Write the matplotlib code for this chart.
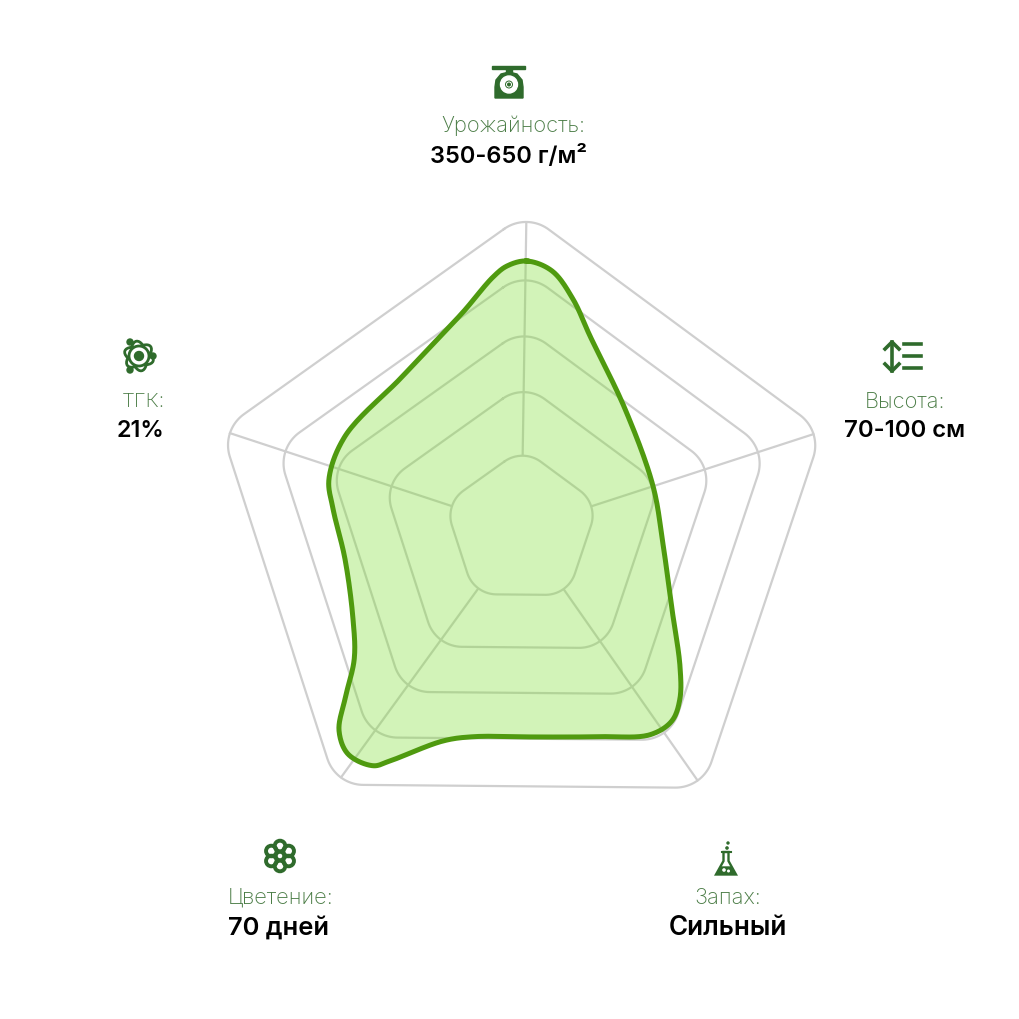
import numpy as np
import matplotlib
matplotlib.use("Agg")
import matplotlib.pyplot as plt
from matplotlib.patches import Circle, Ellipse, Polygon, Rectangle

plt.rcParams['font.family'] = ['Inter', 'DejaVu Sans']

# --- data ---------------------------------------------------------------
axis_names = ["Урожайность:", "Высота:", "Запах:", "Цветение:", "ТГК:"]
axis_values = ["350-650 г/м²", "70-100 см", "Сильный", "70 дней", "21%"]
axis_angles_deg = [0.9, 72.0, 145.0, 216.0, 288.2]
ring_levels = [0.255, 0.46, 0.637, 0.815, 1.0]
outline_angle_deg = [0.5, 6.1, 11.9, 18.7, 40, 71.5, 96.2, 118.5, 131.6, 137.6, 142.5,
                     148.6, 160, 175.7, 193.9, 201, 210.1, 212.6, 218.1, 222.6, 226.6,
                     232.7, 242.3, 260.5, 276, 284.3, 297.4, 320.3, 332.6, 344.2, 352.9, 356.2]
outline_radius = [268, 259.5, 235, 204, 156.5, 135.5, 139.3, 167.8, 208, 230.4, 242,
                  241, 221, 208.6, 214, 227, 268, 281, 286, 274, 247,
                  214, 193.7, 182, 192.5, 201.8, 202, 195, 205, 225.5, 254, 263.6]

# --- layout -------------------------------------------------------------
W = 1020
CX, CY = 524.5, 530.0
GRID_CX = 521.5
RMAX_AXES = 500.0
R_OUTER = 316.0
ring_corner = [31, 36, 37, 38, 38]
label_pos = [(513, 125, 509, 155), (905, 401, 905, 430), (728, 897, 728, 927),
             (281, 897, 279, 927), (143, 401, 141, 430)]
label_size = [15.8, 15.8, 15.8, 15.8, 14.8]
value_size = [17.0, 17.2, 18.8, 18.4, 16.8]
GRID = '#cfcfcf'
FILL = '#7edd34'
LINE = '#4f9a0f'
LABEL = '#4a7c45'
ICON = '#2f6b2c'


def to_xy(theta_deg, r):
    t = np.radians(np.asarray(theta_deg, float))
    return np.asarray(r, float) * np.sin(t), np.asarray(r, float) * np.cos(t)


def to_polar(x, y):
    return np.arctan2(x, y), np.hypot(x, y)


def rounded_polygon(xs, ys, rad, n=24):
    pts = np.column_stack([xs, ys])
    out = []
    m = len(pts)
    for i in range(m):
        p, a, b = pts[i], pts[i - 1], pts[(i + 1) % m]
        u = (a - p) / np.linalg.norm(a - p)
        v = (b - p) / np.linalg.norm(b - p)
        half = np.arccos(np.clip(u @ v, -1, 1)) / 2
        tl = rad / np.tan(half)
        bis = (u + v) / np.linalg.norm(u + v)
        c = p + bis * rad / np.sin(half)
        s, e = p + u * tl, p + v * tl
        a0 = np.arctan2(*(s - c)[::-1])
        a1 = np.arctan2(*(e - c)[::-1])
        d = (a1 - a0 + np.pi) % (2 * np.pi) - np.pi
        for f in np.linspace(0, 1, n):
            ang = a0 + d * f
            out.append(c + rad * np.array([np.cos(ang), np.sin(ang)]))
    out.append(out[0])
    return np.array(out)


def smooth_closed(x, y, n=20, alpha=0.5):
    """Centripetal Catmull-Rom through the read outline points."""
    P = np.column_stack([x, y])
    m = len(P)
    res = []
    for i in range(m):
        p0, p1, p2, p3 = P[i - 1], P[i], P[(i + 1) % m], P[(i + 2) % m]
        t0 = 0.0
        t1 = t0 + np.linalg.norm(p1 - p0) ** alpha
        t2 = t1 + np.linalg.norm(p2 - p1) ** alpha
        t3 = t2 + np.linalg.norm(p3 - p2) ** alpha
        for t in np.linspace(t1, t2, n, endpoint=False):
            a1 = (t1 - t) / (t1 - t0) * p0 + (t - t0) / (t1 - t0) * p1
            a2 = (t2 - t) / (t2 - t1) * p1 + (t - t1) / (t2 - t1) * p2
            a3 = (t3 - t) / (t3 - t2) * p2 + (t - t2) / (t3 - t2) * p3
            b1 = (t2 - t) / (t2 - t0) * a1 + (t - t0) / (t2 - t0) * a2
            b2 = (t3 - t) / (t3 - t1) * a2 + (t - t1) / (t3 - t1) * a3
            res.append((t2 - t) / (t2 - t1) * b1 + (t - t1) / (t2 - t1) * b2)
    res.append(res[0])
    return np.array(res)


def polar_axes(fig, cx, cy):
    a = fig.add_axes([(cx - RMAX_AXES) / W, (W - cy - RMAX_AXES) / W,
                      2 * RMAX_AXES / W, 2 * RMAX_AXES / W], projection='polar')
    a.set_theta_zero_location('N')
    a.set_theta_direction(-1)
    a.set_ylim(0, RMAX_AXES)
    a.axis('off')
    a.patch.set_alpha(0)
    return a


fig = plt.figure(figsize=(W / 100, W / 100), dpi=100, facecolor='white')

# grid axes, scaled 1 unit = 1 pixel
gax = polar_axes(fig, GRID_CX, CY)
for a in axis_angles_deg:
    gax.plot([np.radians(a)] * 2, [R_OUTER * ring_levels[0] - 7, R_OUTER - 8],
             color=GRID, lw=1.6, clip_on=False, zorder=1, solid_capstyle='butt')

for lv, rad in zip(ring_levels, ring_corner):
    xs, ys = to_xy(axis_angles_deg, np.full(5, lv * R_OUTER))
    ring = rounded_polygon(xs, ys, rad)
    th, rr = to_polar(ring[:, 0], ring[:, 1])
    gax.plot(th, rr, color=GRID, lw=1.6, clip_on=False, zorder=2)

# series axes
ax = polar_axes(fig, CX, CY)
ox, oy = to_xy(outline_angle_deg, outline_radius)
sm = smooth_closed(ox, oy)
th, rr = to_polar(sm[:, 0], sm[:, 1])
ax.fill(th, rr, color=FILL, alpha=0.35, lw=0, zorder=3, clip_on=False)
ax.plot(th, rr, color=LINE, lw=3.6, zorder=4, clip_on=False)

# overlay in pixel coordinates for labels and icons
ov = fig.add_axes([0, 0, 1, 1], facecolor='none')
ov.set_xlim(0, W)
ov.set_ylim(W, 0)
ov.axis('off')

for name, val, (lx, ly, vx, vy), ls, vs in zip(axis_names, axis_values, label_pos, label_size, value_size):
    ov.text(lx, ly + 1, name, ha='center', va='center', fontsize=ls, color=LABEL, fontweight='light')
    ov.text(vx, vy + 1, val, ha='center', va='center', fontsize=vs, color='black', fontweight='semibold')

# scale icon
ov.add_patch(Rectangle((492, 67), 33, 3.2, color=ICON))
ov.add_patch(Rectangle((506, 70), 6, 4, color=ICON))
ov.add_patch(Polygon([(495, 99), (495, 88), (496, 81), (501, 75), (509, 73), (517, 75), (522, 81), (523, 88), (523, 99)],
                     closed=True, color=ICON))
ov.add_patch(Circle((509, 85.5), 8.5, color='white'))
ov.add_patch(Circle((509, 85.5), 3.5, fill=False, ec=ICON, lw=0.7))
ov.add_patch(Circle((509, 85.5), 1.3, color=ICON))

# height icon
ov.plot([892, 892], [343, 372], color=ICON, lw=2.6)
ov.plot([885, 892, 899], [350, 343, 350], color=ICON, lw=2.6)
ov.plot([885, 892, 899], [365, 372, 365], color=ICON, lw=2.6)
for yy in (345, 357, 369):
    ov.plot([904, 921], [yy, yy], color=ICON, lw=2.6)

# atom icon
for ang in (20, 80, 140):
    ov.add_patch(Ellipse((139, 357), 30, 15, angle=ang, fill=False, ec=ICON, lw=2))
ov.add_patch(Circle((139, 357), 10, fill=True, fc='white', ec=ICON, lw=2))
ov.add_patch(Circle((139, 357), 4.5, color=ICON))
for (px, py) in ((130, 343), (153, 357), (130, 371)):
    ov.add_patch(Circle((px, py), 3, color=ICON))

# flower icon
for k in range(6):
    t = np.radians(30 + 60 * k)
    ov.add_patch(Circle((280 + 10 * np.cos(t), 857 + 10 * np.sin(t)), 5.3, fill=False, ec=ICON, lw=2.8))
ov.add_patch(Circle((280, 857), 3.2, fill=False, ec=ICON, lw=1.3))

# flask icon
ov.plot([722, 731], [853, 853], color=ICON, lw=1.5)
ov.add_patch(Polygon([(723.5, 853), (723.5, 862), (716, 875.5), (736, 875.5), (728.5, 862), (728.5, 853)],
                     closed=True, fill=False, ec=ICON, lw=1.7))
ov.add_patch(Polygon([(721, 868), (731, 868), (735, 875), (717, 875)], closed=True, color=ICON))
ov.add_patch(Circle((724, 871), 1.1, color='white'))
ov.add_patch(Circle((728.5, 872), 0.8, color='white'))
ov.add_patch(Circle((727, 849), 1.1, color=ICON))
ov.add_patch(Circle((728, 844), 1, color=ICON))

fig.savefig('out.png', dpi=100)
